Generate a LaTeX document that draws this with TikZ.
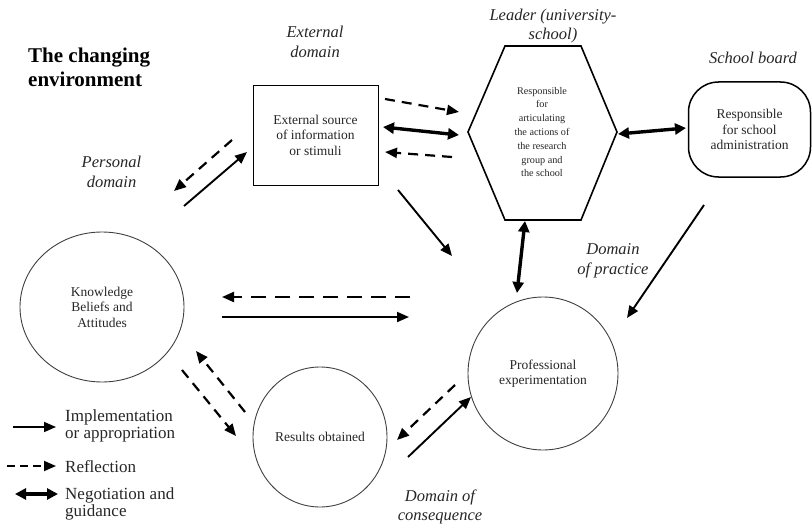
\documentclass[tikz,border=0pt]{standalone}
\usepackage{fontspec}
\setmainfont{Liberation Serif}
\usetikzlibrary{arrows.meta,shapes.geometric}
\begin{document}
\begin{tikzpicture}[x=1pt,y=-1pt,
  imp/.style={line width=1.9pt,-{Triangle[length=12pt,width=10pt]}},
  refl/.style={line width=2.2pt,dash pattern=on 10pt off 7pt,-{Triangle[length=12pt,width=10pt]}},
  neg/.style={line width=3.4pt,{Triangle[length=11pt,width=11pt]}-{Triangle[length=11pt,width=11pt]}},
  lbl/.style={font=\fontsize{16.5}{19.5}\selectfont\itshape, align=center, inner sep=0pt, text=black!85},
  txt/.style={font=\fontsize{13.5}{15.5}\selectfont, align=center, inner sep=0pt, text=black!85},
  leg/.style={font=\fontsize{17}{16.5}\selectfont, align=left, anchor=west, inner sep=0pt, text=black!85},
  circ/.style={draw=black!75, line width=0.9pt, ellipse, inner sep=0pt},
]
\useasboundingbox (0,0) rectangle (812,527);

% title
\node[font=\fontsize{21}{24}\selectfont\bfseries, align=left, anchor=west, inner sep=0pt] (title) at (28,67) {The changing\\environment};

% domain labels
\node[lbl] (extlbl) at (315,42) {External\\domain};
\node[lbl] (leadlbl) at (553,26) {Leader (university-\\school)};
\node[lbl] (sblbl) at (753,57.5) {School board};
\node[lbl] (perslbl) at (111.5,172) {Personal\\domain};
\node[lbl] (praclbl) at (613,261) {Domain\\of practice};
\node[lbl] (conslbl) at (440,507) {Domain of\\consequence};

% external source box
\node[draw, line width=0.9pt, minimum width=125pt, minimum height=100pt, txt] (ext) at (315.5,135) {External source\\of information\\or stimuli};

% hexagon (leader)
\draw[line width=1.6pt, line join=miter] (505,46) -- (581,46) -- (617,132) -- (581,220) -- (505,220) -- (468,132) -- cycle;
\node[font=\fontsize{10.2}{13.8}\selectfont, align=center, inner sep=0pt, text=black!85] (hex) at (542,132) {Responsible\\for\\articulating\\the actions of\\the research\\group and\\the school};

% school board
\node[draw, line width=1.5pt, rounded corners=30pt, minimum width=122pt, minimum height=95pt, txt] (sb) at (749.5,129.5) {Responsible\\for school\\administration};

% circles
\node[circ, minimum width=164pt, minimum height=150pt, txt] (know) at (102,307) {Knowledge\\Beliefs and\\Attitudes};
\node[circ, minimum width=150pt, minimum height=153pt, txt] (prof) at (543,373.5) {Professional\\experimentation};
\node[circ, minimum width=134pt, minimum height=140pt, txt] (res) at (320,437) {Results obtained};

% arrow end coordinates
\coordinate (p1a) at (232,140); \coordinate (p1b) at (174,191);
\coordinate (p2a) at (184,206); \coordinate (p2b) at (247,152);
\coordinate (e1a) at (385,99);  \coordinate (e1b) at (459,112);
\coordinate (e2a) at (383,127); \coordinate (e2b) at (459,135);
\coordinate (e3a) at (452,157); \coordinate (e3b) at (385,152);
\coordinate (h1a) at (618,134); \coordinate (h1b) at (686,128);
\coordinate (x1a) at (398,190); \coordinate (x1b) at (452,256);
\coordinate (h2a) at (525,221); \coordinate (h2b) at (517,293);
\coordinate (s1a) at (704,205); \coordinate (s1b) at (627,318);
\coordinate (k1a) at (410,297); \coordinate (k1b) at (222,297);
\coordinate (k2a) at (222,317); \coordinate (k2b) at (409,317);
\coordinate (r1a) at (245,412); \coordinate (r1b) at (196,351);
\coordinate (r2a) at (182,370); \coordinate (r2b) at (236,436);
\coordinate (q1a) at (455,385); \coordinate (q1b) at (397,440);
\coordinate (q2a) at (408,457); \coordinate (q2b) at (471,397);

\draw[refl] (p1a) -- (p1b);
\draw[imp]  (p2a) -- (p2b);
\draw[refl] (e1a) -- (e1b);
\draw[neg]  (e2a) -- (e2b);
\draw[refl] (e3a) -- (e3b);
\draw[neg]  (h1a) -- (h1b);
\draw[imp]  (x1a) -- (x1b);
\draw[neg]  (h2a) -- (h2b);
\draw[imp]  (s1a) -- (s1b);
\draw[refl, dash pattern=on 15pt off 9pt] (k1a) -- (k1b);
\draw[imp]  (k2a) -- (k2b);
\draw[refl] (r1a) -- (r1b);
\draw[refl] (r2a) -- (r2b);
\draw[refl] (q1a) -- (q1b);
\draw[imp]  (q2a) -- (q2b);

% legend
\coordinate (l1a) at (13,427); \coordinate (l1b) at (56,427);
\coordinate (l2a) at (7,466);  \coordinate (l2b) at (56,466);
\coordinate (l3a) at (15,494); \coordinate (l3b) at (58,494);
\draw[imp, line width=1.6pt]  (l1a) -- (l1b);
\draw[refl, line width=1.8pt, dash pattern=on 8pt off 5pt] (l2a) -- (l2b);
\draw[neg]  (l3a) -- (l3b);
\node[leg] (leg1) at (65,426) {Implementation\\or appropriation};
\node[leg] (leg2) at (65,467) {Reflection};
\node[leg] (leg3) at (65,504) {Negotiation and\\guidance};
\end{tikzpicture}
\end{document}
